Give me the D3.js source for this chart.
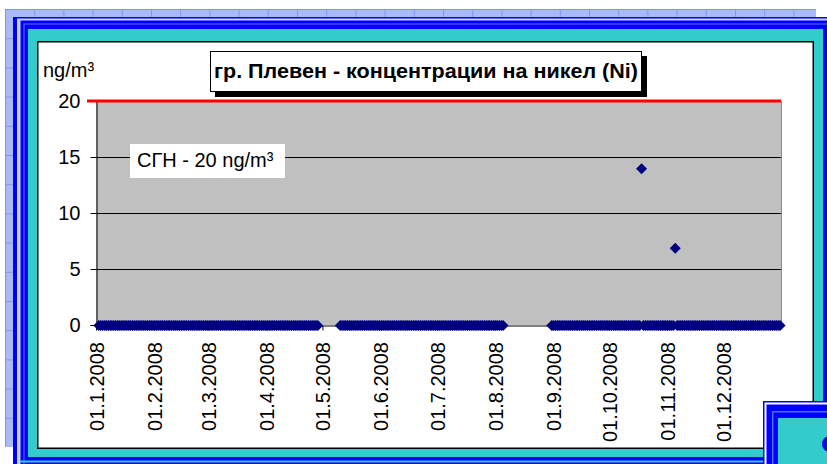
<!DOCTYPE html>
<html>
<head>
<meta charset="utf-8">
<script src="https://cdn.jsdelivr.net/npm/d3@7"></script>
<style>
  html, body { margin: 0; padding: 0; background: #ffffff; }
  svg { display: block; }
  text { font-family: "Liberation Sans", Arial, sans-serif; fill: #000; }
</style>
</head>
<body>
<svg id="chart" width="827" height="464"></svg>
<script>
// Daily nickel (Ni) concentrations, Pleven 2008, ng/m³ (null = no sample)
const Z = 0;
const niJan = [null,Z,Z,Z,Z,Z,Z,Z,Z,Z, Z,Z,Z,Z,Z,Z,Z,Z,Z,Z, Z,Z,Z,Z,Z,Z,Z,Z,Z,Z, Z];
const niFeb = [Z,Z,Z,Z,Z,Z,Z,Z,Z,Z, Z,Z,Z,Z,Z,Z,Z,Z,Z,Z, Z,Z,Z,Z,Z,Z,Z,Z,Z];
const niMar = [Z,Z,Z,Z,Z,Z,Z,Z,Z,Z, Z,Z,Z,Z,Z,Z,Z,Z,Z,Z, Z,Z,Z,Z,Z,Z,Z,Z,Z,Z, Z];
const niApr = [Z,Z,Z,Z,Z,Z,Z,Z,Z,Z, Z,Z,Z,Z,Z,Z,Z,Z,Z,Z, Z,Z,Z,Z,Z,Z,Z,Z,null,null];
const niMay = [null,null,null,null,null,null,null,null,null,Z, Z,Z,Z,Z,Z,Z,Z,Z,Z,Z, Z,Z,Z,Z,Z,Z,Z,Z,Z,Z, Z];
const niJun = [Z,Z,Z,Z,Z,Z,Z,Z,Z,Z, Z,Z,Z,Z,Z,Z,Z,Z,Z,Z, Z,Z,Z,Z,Z,Z,Z,Z,Z,Z];
const niJul = [Z,Z,Z,Z,Z,Z,Z,Z,Z,Z, Z,Z,Z,Z,Z,Z,Z,Z,Z,Z, Z,Z,Z,Z,Z,Z,Z,Z,Z,Z, Z];
const niAug = [Z,Z,Z,Z,Z,null,null,null,null,null, null,null,null,null,null,null,null,null,null,null, null,null,null,null,null,null,null,null,null,null, Z];
const niSep = [Z,Z,Z,Z,Z,Z,Z,Z,Z,Z, Z,Z,Z,Z,Z,Z,Z,Z,Z,Z, Z,Z,Z,Z,Z,Z,Z,Z,Z,Z];
const niOct = [Z,Z,Z,Z,Z,Z,Z,Z,Z,Z, Z,Z,Z,Z,Z,Z,Z,14.0,Z,Z, Z,Z,Z,Z,Z,Z,Z,Z,Z,Z, Z];
const niNov = [Z,Z,Z,Z,6.9,Z,Z,Z,Z,Z, Z,Z,Z,Z,Z,Z,Z,Z,Z,Z, Z,Z,Z,Z,Z,Z,Z,Z,Z,Z];
const niDec = [Z,Z,Z,Z,Z,Z,Z,Z,Z,Z, Z,Z,Z,Z,Z,Z,Z,Z,Z,Z, Z,Z,Z,Z,Z,Z,Z,Z,Z,Z, Z];
const niMonths = [niJan, niFeb, niMar, niApr, niMay, niJun, niJul, niAug, niSep, niOct, niNov, niDec];

const year = 2008;
const monthLabels = ["01.1.2008","01.2.2008","01.3.2008","01.4.2008","01.5.2008","01.6.2008",
                     "01.7.2008","01.8.2008","01.9.2008","01.10.2008","01.11.2008","01.12.2008"];
const yTicks = [0, 5, 10, 15, 20];
const limitValue = 20;
const limitLabel = "СГН - 20 ng/m³";
const unitLabel = "ng/m³";
const titleText = "гр. Плевен - концентрации на никел (Ni)";

const DAY = 86400000;
const points = [];
niMonths.forEach((vals, m) => vals.forEach((v, i) => {
  if (v !== null) points.push({ date: new Date(Date.UTC(year, m, i + 1)), value: v });
}));

const svg = d3.select("#chart");

// ---- decorative page frame ----
const defs = svg.append("defs");
const pat = defs.append("pattern").attr("id", "grid").attr("patternUnits", "userSpaceOnUse")
  .attr("x", 5).attr("y", 9).attr("width", 29.2).attr("height", 29.2);
pat.append("rect").attr("width", 29.2).attr("height", 29.2).attr("fill", "#abbaf2");
pat.append("path").attr("d", "M0.5,0V29.2M0,0.5H29.2").attr("stroke", "#7e98ee").attr("stroke-width", 1);

svg.append("rect").attr("x", 5).attr("y", 9).attr("width", 811).attr("height", 438).attr("fill", "url(#grid)");

const frame = svg.append("g");
frame.append("rect").attr("x", 13).attr("y", 17).attr("width", 900).attr("height", 600).attr("fill", "#0000ff");
frame.append("rect").attr("x", 17).attr("y", 18.5).attr("width", 900).attr("height", 600).attr("fill", "#c9d2f7");
frame.append("rect").attr("x", 20.5).attr("y", 20.5).attr("width", 900).attr("height", 600).attr("fill", "#0000ff");
frame.append("rect").attr("x", 23.5).attr("y", 23.5).attr("width", 900).attr("height", 600).attr("fill", "#5a70f6");
frame.append("rect").attr("x", 24.5).attr("y", 24.5).attr("width", 900).attr("height", 600).attr("fill", "#0000ff");
frame.append("rect").attr("x", 28).attr("y", 29).attr("width", 795).attr("height", 428).attr("fill", "#33cccc");
frame.append("line").attr("x1", 20).attr("x2", 827).attr("y1", 461.5).attr("y2", 461.5).attr("stroke", "#33cccc").attr("stroke-width", 2);
frame.append("rect").attr("x", 37.75).attr("y", 41.75).attr("width", 775.5).attr("height", 406.5)
  .attr("fill", "#ffffff").attr("stroke", "#000").attr("stroke-width", 1.5);

// ---- scales ----
const x = d3.scaleUtc().domain([new Date(Date.UTC(year, 0, 1)), new Date(Date.UTC(year + 1, 0, 1))]).range([96, 781]);
const y = d3.scaleLinear().domain([0, 20]).range([325, 101]);

// plot area
svg.append("rect").attr("x", x.range()[0]).attr("y", y(20)).attr("width", x.range()[1] - x.range()[0])
  .attr("height", y(0) - y(20)).attr("fill", "#c0c0c0");
svg.append("line").attr("x1", 781.5).attr("x2", 781.5).attr("y1", y(20)).attr("y2", y(0)).attr("stroke", "#8c8c8c");

// gridlines
svg.append("g").selectAll("line").data(yTicks.filter(t => t > 0 && t < 20)).join("line")
  .attr("x1", 96).attr("x2", 781).attr("y1", d => Math.round(y(d)) + 0.5).attr("y2", d => Math.round(y(d)) + 0.5)
  .attr("stroke", "#000").attr("stroke-width", 1);

// y axis
const yAxis = svg.append("g").attr("transform", "translate(96.5,0)")
  .call(d3.axisLeft(y).tickValues(yTicks).tickSize(6).tickPadding(10).tickFormat(d3.format("d")));
yAxis.select(".domain").attr("stroke", "#000");
yAxis.selectAll(".tick line").attr("stroke", "#000");
yAxis.selectAll(".tick text").attr("font-size", 20).attr("font-family", "Liberation Sans, Arial, sans-serif").attr("fill", "#000");

// x axis: month tick marks at month starts, labels centred on the first day
const monthStarts = monthLabels.map((_, m) => new Date(Date.UTC(year, m, 1)));
const xAxis = svg.append("g").attr("transform", "translate(0,325.5)")
  .call(d3.axisBottom(x).tickValues(monthStarts).tickSize(5).tickSizeOuter(0).tickFormat(""));
xAxis.select(".domain").attr("stroke", "#000");
xAxis.selectAll(".tick line").attr("stroke", "#000");

svg.append("g").selectAll("text").data(monthStarts).join("text")
  .attr("transform", (d, i) => `translate(${x(new Date(+d + DAY / 2))},342) rotate(-90)`)
  .attr("text-anchor", "end").attr("dy", "0.35em").attr("font-size", 20)
  .text((d, i) => monthLabels[i]);

// limit line (СГН)
svg.append("line").attr("x1", 87).attr("x2", 781).attr("y1", y(limitValue)).attr("y2", y(limitValue))
  .attr("stroke", "#ff0000").attr("stroke-width", 3);

// limit label
const lim = svg.append("g");
lim.append("rect").attr("x", 130).attr("y", 144).attr("width", 155).attr("height", 34).attr("fill", "#fff");
lim.append("text").attr("x", 137).attr("y", 167).attr("font-size", 20).text(limitLabel);

// data markers
const diamond = "M0,-5.5L5.5,0L0,5.5L-5.5,0Z";
svg.append("g").selectAll("path").data(points.filter(p => p.value === 0).concat(points.filter(p => p.value !== 0)))
  .join("path")
  .attr("d", diamond)
  .attr("transform", d => `translate(${x(new Date(+d.date + DAY / 2))},${y(d.value) + 0.5})`)
  .attr("fill", "#000080");

// unit label
svg.append("text").attr("x", 43).attr("y", 77).attr("font-size", 20).text(unitLabel);

// title box with drop shadow
const tb = svg.append("g");
tb.append("rect").attr("x", 215).attr("y", 56).attr("width", 432).attr("height", 41).attr("fill", "#000");
tb.append("rect").attr("x", 210.5).attr("y", 51.5).attr("width", 431).attr("height", 40)
  .attr("fill", "#fff").attr("stroke", "#000").attr("stroke-width", 1);
tb.append("text").attr("x", 214).attr("y", 78).attr("font-size", 20).attr("font-weight", "bold")
  .attr("textLength", 424).attr("lengthAdjust", "spacingAndGlyphs").text(titleText);

// legend panel corner (bottom right)
const lg = svg.append("g");
lg.append("rect").attr("x", 763).attr("y", 401).attr("width", 100).attr("height", 100).attr("fill", "#0000ff");
lg.append("rect").attr("x", 764.5).attr("y", 402.5).attr("width", 100).attr("height", 100).attr("fill", "#ffffff");
lg.append("rect").attr("x", 766.5).attr("y", 404.5).attr("width", 100).attr("height", 100).attr("fill", "#0000ff");
lg.append("rect").attr("x", 772).attr("y", 411).attr("width", 100).attr("height", 100).attr("fill", "#4f6cf5");
lg.append("rect").attr("x", 773.5).attr("y", 412.5).attr("width", 100).attr("height", 100).attr("fill", "#0000ff");
lg.append("rect").attr("x", 778).attr("y", 418).attr("width", 100).attr("height", 100).attr("fill", "#33cccc");
lg.append("circle").attr("cx", 830).attr("cy", 444).attr("r", 8).attr("fill", "#0a0af0");
</script>
</body>
</html>
